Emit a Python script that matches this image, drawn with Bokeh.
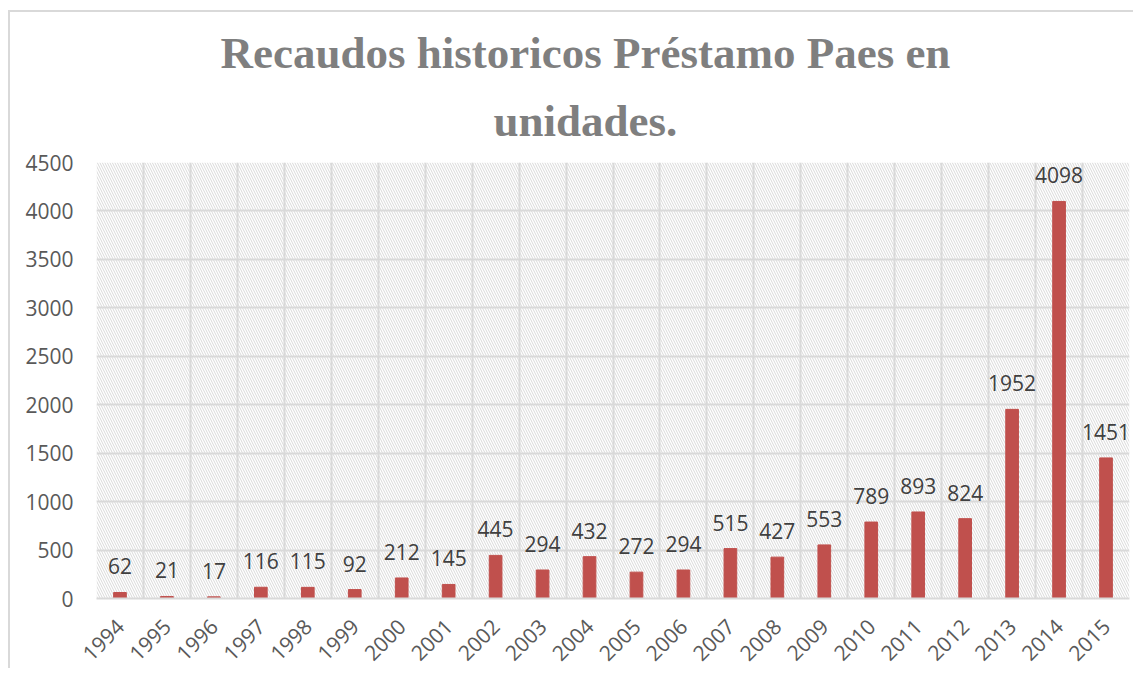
from bokeh.plotting import figure
from bokeh.models import (Range1d, FixedTicker, BoxAnnotation, Title, ColumnDataSource,
                          LabelSet)
from bokeh.core.properties import value
from bokeh.embed import file_html
from bokeh.resources import INLINE
import math

years = [1994, 1995, 1996, 1997, 1998, 1999, 2000, 2001, 2002, 2003, 2004,
         2005, 2006, 2007, 2008, 2009, 2010, 2011, 2012, 2013, 2014, 2015]
recaudos = [62, 21, 17, 116, 115, 92, 212, 145, 445, 294, 432,
            272, 294, 515, 427, 553, 789, 893, 824, 1952, 4098, 1451]
y_ticks = [0, 500, 1000, 1500, 2000, 2500, 3000, 3500, 4000, 4500]
title_line1 = "Recaudos historicos Préstamo Paes en"
title_line2 = "unidades."

src = ColumnDataSource(dict(x=years, y=recaudos, lbl=[str(v) for v in recaudos]))

p = figure(width=1125, height=658, output_backend="svg", toolbar_location=None,
           x_range=Range1d(years[0] - 0.5, years[-1] + 0.5),
           y_range=Range1d(y_ticks[0], y_ticks[-1]),
           min_border_left=86, min_border_top=150, min_border_right=6, min_border_bottom=71)
p.margin = (10, 0, 0, 8)
p.styles = {"border-top": "2px solid #d9d9d9", "border-left": "2px solid #d9d9d9"}
p.outline_line_color = None
p.background_fill_color = "white"
p.border_fill_color = "white"

# hatched plot background
bg = BoxAnnotation(fill_color="white", fill_alpha=1.0, line_color=None,
                   hatch_pattern="left_diagonal_line", hatch_color="#d9d9d9",
                   hatch_scale=5, hatch_weight=1, level="image")
p.add_layout(bg)

p.vbar(x="x", top="y", width=0.27, source=src, color="#c0504d")

labels = LabelSet(x="x", y="y", text="lbl", source=src, text_align="center",
                  text_baseline="bottom", y_offset=18, text_font=value("Open Sans"),
                  text_font_size="21px", text_color="#404040")
p.add_layout(labels)

# axes
p.xaxis.ticker = FixedTicker(ticks=years)
p.xaxis.major_label_orientation = math.pi / 4
p.xaxis.major_tick_line_color = None
p.xaxis.minor_tick_line_color = None
p.xaxis.axis_line_color = "#d9d9d9"
p.xaxis.axis_line_width = 2
p.xaxis.major_label_text_font = "Open Sans"
p.xaxis.major_label_text_font_size = "21px"
p.xaxis.major_label_text_color = "#595959"
p.xaxis.major_label_standoff = 18

p.yaxis.ticker = FixedTicker(ticks=y_ticks)
p.yaxis.axis_line_color = None
p.yaxis.major_tick_line_color = None
p.yaxis.minor_tick_line_color = None
p.yaxis.major_label_text_font = "Open Sans"
p.yaxis.major_label_text_font_size = "21px"
p.yaxis.major_label_text_color = "#595959"
p.yaxis.major_label_standoff = 17

# grids
p.xgrid.ticker = FixedTicker(ticks=[y - 0.5 for y in years] + [years[-1] + 0.5])
p.ygrid.ticker = FixedTicker(ticks=y_ticks)
for g in (p.xgrid, p.ygrid):
    g.grid_line_color = "#d9d9d9"
    g.grid_line_width = 2

# title (two lines)
for txt, off, so in ((title_line2, 397, 33), (title_line1, 124, 0)):
    p.add_layout(Title(text=txt, align="left", offset=off, text_font="Liberation Serif",
                       text_font_style="bold", text_font_size="45px", text_color="#7f7f7f",
                       standoff=so), "above")

open("out.html", "w").write(file_html(p, INLINE))
